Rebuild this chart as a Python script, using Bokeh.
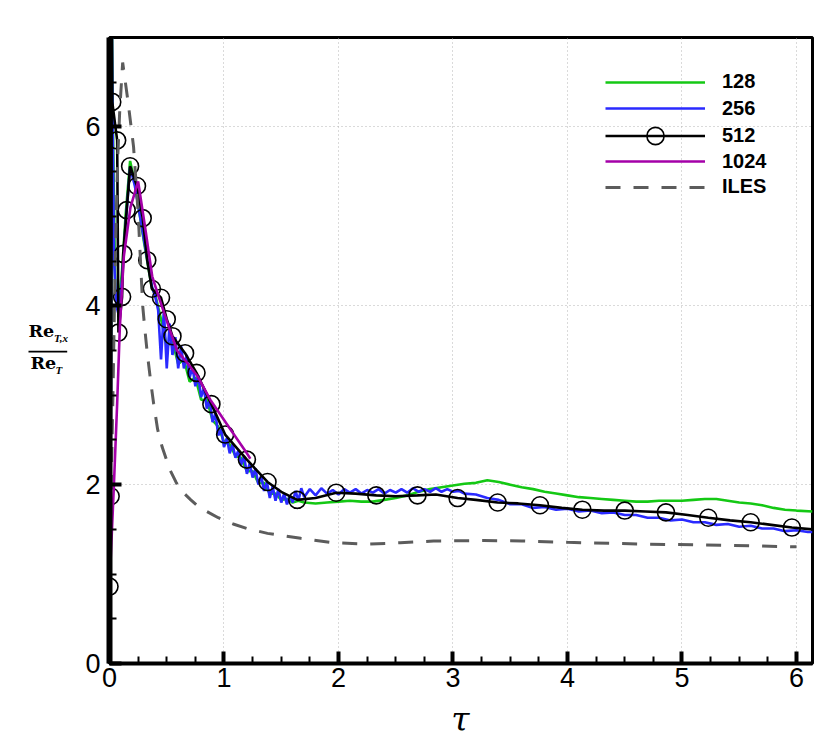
from bokeh.plotting import figure
from bokeh.models import Range1d, SingleIntervalTicker, Legend, LegendItem
from bokeh.layouts import row, column
from bokeh.core.properties import value
from bokeh.embed import file_html
from bokeh.resources import INLINE

# ---------------- data ----------------
tau128 = [0.0, 0.01, 0.016, 0.02, 0.03, 0.05, 0.08, 0.11, 0.14, 0.18, 0.22, 0.26, 0.30, 0.34, 0.37, 0.40,
          0.45, 0.50, 0.55, 0.60, 0.65, 0.70, 0.75, 0.80, 0.85, 0.90, 0.95, 1.00, 1.05,
          1.10, 1.15, 1.20, 1.25, 1.30, 1.35, 1.40, 1.45, 1.50, 1.55, 1.60, 1.65, 1.70,
          1.80, 1.90, 2.00, 2.10, 2.20, 2.30, 2.40, 2.50, 2.60, 2.70, 2.80, 2.90, 3.00,
          3.10, 3.20, 3.30, 3.40, 3.50, 3.60, 3.70, 3.80, 3.90, 4.00, 4.10, 4.20, 4.30,
          4.40, 4.50, 4.60, 4.70, 4.80, 4.90, 5.00, 5.10, 5.20, 5.30, 5.40, 5.50, 5.60,
          5.70, 5.80, 5.90, 6.00, 6.14]
re128 = [0.95, 2.1, 5.2, 7.3, 6.0, 4.2, 4.0, 4.4, 5.0, 5.62, 5.38, 5.05, 4.72, 4.42, 4.20, 4.12,
         3.85, 3.55, 3.60, 3.35, 3.40, 3.15, 3.20, 2.95, 2.95, 2.72, 2.65, 2.48, 2.45,
         2.32, 2.30, 2.15, 2.15, 2.02, 2.02, 1.90, 1.90, 1.83, 1.84, 1.80, 1.82, 1.80,
         1.79, 1.80, 1.81, 1.82, 1.81, 1.81, 1.83, 1.85, 1.88, 1.92, 1.95, 1.97, 1.99,
         2.01, 2.02, 2.05, 2.03, 2.00, 1.97, 1.95, 1.92, 1.90, 1.88, 1.86, 1.85, 1.84,
         1.83, 1.82, 1.81, 1.81, 1.82, 1.82, 1.82, 1.83, 1.84, 1.84, 1.82, 1.80, 1.79,
         1.77, 1.74, 1.72, 1.71, 1.70]

tau256 = [0.0, 0.01, 0.016, 0.02, 0.026, 0.04, 0.06, 0.08, 0.11, 0.14, 0.18, 0.22, 0.26, 0.30, 0.34, 0.37,
          0.400, 0.425, 0.450, 0.475, 0.500, 0.525, 0.550, 0.575, 0.600, 0.625, 0.650,
          0.675, 0.700, 0.725, 0.750, 0.775, 0.800, 0.825, 0.850, 0.875, 0.900, 0.925,
          0.950, 0.975, 1.000, 1.025, 1.050, 1.075, 1.100, 1.125, 1.150, 1.175, 1.200,
          1.225, 1.250, 1.275, 1.300, 1.325, 1.350, 1.375, 1.400, 1.425, 1.450, 1.475,
          1.500, 1.525, 1.550, 1.575, 1.600, 1.625, 1.650, 1.675, 1.700,
          1.75, 1.80, 1.85, 1.90, 1.95, 2.00, 2.05, 2.10, 2.15, 2.20, 2.25, 2.30, 2.35,
          2.40, 2.45, 2.50, 2.55, 2.60, 2.65, 2.70, 2.75, 2.80, 2.85, 2.90, 2.95, 3.00,
          3.05, 3.10,
          3.2, 3.3, 3.4, 3.5, 3.6, 3.7, 3.8, 3.9, 4.0, 4.1, 4.2, 4.3, 4.4, 4.5, 4.6, 4.7,
          4.8, 4.9, 5.0, 5.1, 5.2, 5.3, 5.4, 5.5, 5.6, 5.7, 5.8, 5.9, 6.0, 6.1, 6.14]
re256 = [0.9, 2.0, 5.0, 7.3, 6.2, 4.5, 4.0, 3.9, 4.3, 4.9, 5.55, 5.35, 5.05, 4.75, 4.45, 4.22,
         4.10, 3.95, 3.40, 3.95, 3.30, 3.80, 3.45, 3.65, 3.30, 3.55, 3.30,
         3.45, 3.20, 3.32, 3.10, 3.22, 2.98, 3.08, 2.85, 2.95, 2.70, 2.80,
         2.55, 2.62, 2.42, 2.52, 2.35, 2.45, 2.30, 2.38, 2.22, 2.32, 2.12,
         2.24, 2.08, 2.18, 2.00, 2.10, 1.93, 2.03, 1.85, 1.98, 1.82, 1.95,
         1.80, 1.90, 1.78, 1.88, 1.80, 1.93, 1.82, 1.96, 1.86,
         1.95, 1.88, 1.96, 1.90, 1.94, 1.89, 1.95, 1.91, 1.95, 1.90, 1.94, 1.91, 1.95,
         1.90, 1.94, 1.91, 1.95, 1.91, 1.96, 1.92, 1.95, 1.92, 1.96, 1.92, 1.95, 1.92,
         1.93, 1.90,
         1.89, 1.85, 1.83, 1.78, 1.78, 1.74, 1.75, 1.72, 1.73, 1.70, 1.71, 1.68, 1.69, 1.66, 1.66, 1.63,
         1.63, 1.60, 1.61, 1.58, 1.58, 1.55, 1.56, 1.53, 1.54, 1.51, 1.51, 1.48, 1.49, 1.47, 1.47]

tau512 = [0.0, 0.01, 0.016, 0.02, 0.024, 0.067, 0.078, 0.11, 0.12, 0.15, 0.18, 0.24, 0.29, 0.33,
          0.37, 0.45, 0.50, 0.55, 0.66, 0.76, 0.89, 1.01, 1.20, 1.38, 1.50, 1.64, 1.80, 1.98,
          2.15, 2.33, 2.50, 2.69, 2.85, 3.04, 3.20, 3.39, 3.57, 3.76, 3.95, 4.13, 4.32, 4.50,
          4.68, 4.86, 5.05, 5.23, 5.42, 5.60, 5.78, 5.96, 6.14]
re512 = [0.86, 1.87, 4.5, 7.3, 6.28, 5.85, 3.70, 4.10, 4.58, 5.07, 5.56, 5.34, 4.98, 4.51,
         4.19, 4.09, 3.85, 3.66, 3.47, 3.25, 2.90, 2.56, 2.28, 2.03, 1.92, 1.83, 1.85, 1.91,
         1.90, 1.88, 1.87, 1.88, 1.89, 1.85, 1.83, 1.80, 1.79, 1.77, 1.74, 1.72, 1.71, 1.71,
         1.70, 1.69, 1.66, 1.63, 1.60, 1.58, 1.55, 1.52, 1.50]
sym512 = [0, 1, 4, 5, 6, 7, 8, 9, 10, 11, 12, 13, 14, 15, 16, 17, 18, 19, 20, 21, 22, 23,
          25, 27, 29, 31, 33, 35, 37, 39, 41, 43, 45, 47, 49]

tau1024 = [0.0, 0.01, 0.038, 0.067, 0.09, 0.125, 0.183, 0.25, 0.314, 0.373, 0.43, 0.53, 0.59,
           0.68, 0.77, 0.88, 1.06, 1.20, 1.23]
re1024 = [1.0, 1.16, 1.98, 2.91, 3.75, 4.55, 5.1, 5.39, 4.85, 4.33, 4.10, 3.72, 3.50,
          3.36, 3.21, 2.95, 2.61, 2.35, 2.29]

tauILES = [0.0, 0.03, 0.05, 0.07, 0.09, 0.115, 0.16, 0.21, 0.25, 0.29, 0.31, 0.33, 0.36, 0.385,
           0.42, 0.46, 0.53, 0.58, 0.62, 0.71, 0.78, 0.85, 0.95, 1.08, 1.20, 1.38, 1.67, 1.96,
           2.25, 2.54, 2.83, 3.27, 3.60, 4.00, 4.70, 5.40, 6.00]
reILES = [1.0, 3.0, 4.5, 5.6, 6.2, 6.72, 6.3, 5.78, 5.04, 4.0, 3.72, 3.47, 3.15, 2.91,
          2.62, 2.42, 2.16, 2.03, 1.94, 1.83, 1.75, 1.70, 1.63, 1.56, 1.51, 1.455, 1.40, 1.35,
          1.335, 1.35, 1.37, 1.375, 1.37, 1.355, 1.335, 1.32, 1.305]

series_labels = ["128", "256", "512", "1024", "ILES"]
x_label = "τ"
y_label_num = ("Re", "T,x")
y_label_den = ("Re", "T")
x_ticks_interval = 1
y_ticks_interval = 2

# ---------------- main figure ----------------
p = figure(width=742, height=699, x_range=Range1d(0, 6.14), y_range=Range1d(0, 7),
           output_backend="svg", toolbar_location=None,
           min_border_left=29, min_border_right=10, min_border_top=37, min_border_bottom=36)
p.background_fill_color = "white"
p.border_fill_color = "white"
p.outline_line_color = "black"
p.outline_line_width = 3

for ax, iv, lw in ((p.xaxis[0], x_ticks_interval, 4), (p.yaxis[0], y_ticks_interval, 6)):
    ax.ticker = SingleIntervalTicker(interval=iv, num_minor_ticks=4)
    ax.axis_line_width = lw
    ax.axis_line_color = "black"
    ax.major_tick_in = 12
    ax.major_tick_out = 0
    ax.minor_tick_in = 7
    ax.minor_tick_out = 0
    ax.major_tick_line_width = 4
    ax.minor_tick_line_width = 2
    ax.major_tick_line_color = "black"
    ax.minor_tick_line_color = "black"
    ax.major_label_text_font = "Liberation Sans"
    ax.major_label_text_font_size = "27px"
    ax.major_label_text_color = "black"
p.xaxis.major_label_standoff = 4
p.yaxis.major_label_standoff = 9

p.xgrid.ticker = SingleIntervalTicker(interval=x_ticks_interval)
p.ygrid.ticker = SingleIntervalTicker(interval=y_ticks_interval)
for g in (p.xgrid[0], p.ygrid[0]):
    g.grid_line_color = "#b4b4b4"
    g.grid_line_dash = "1 3"
    g.grid_line_width = 1

r128 = p.line(tau128, re128, line_color="#14c814", line_width=2.6)
r256 = p.line(tau256, re256, line_color="#2a2aff", line_width=2.6)
r512 = p.line(tau512, re512, line_color="black", line_width=2.6)
s512 = p.scatter([tau512[i] for i in sym512], [re512[i] for i in sym512], marker="circle",
                 size=17, fill_color=None, line_color="black", line_width=1.6)
r1024 = p.line(tau1024, re1024, line_color="#a400a8", line_width=2.6)
rILES = p.line(tauILES, reILES, line_color="#5c5c5c", line_width=3, line_dash="15 13")

# one legend per row (so the circle of "512" can keep its full size)
rows = [([r128], 26, 568.3), ([r256], 26, 542.0), ([r512, s512], 43, 505.8),
        ([r1024], 26, 489.0), ([rILES], 26, 463.3)]
for lab, (rends, h, yb) in zip(series_labels, rows):
    lg = Legend(items=[LegendItem(label=lab, renderers=rends)],
                location=(496, yb), padding=0, margin=0, spacing=0,
                glyph_width=100, glyph_height=h, label_height=h, label_standoff=17,
                label_text_font="Liberation Sans", label_text_font_style="bold",
                label_text_font_size="20px", label_text_color="black",
                label_text_baseline="middle",
                background_fill_alpha=0, border_line_alpha=0)
    p.add_layout(lg)

# ---------------- y label panel (stacked fraction) ----------------
yl = figure(width=80, height=699, x_range=Range1d(0, 80), y_range=Range1d(699, 0),
            output_backend="svg", toolbar_location=None, x_axis_type=None, y_axis_type=None,
            min_border=0)
yl.outline_line_color = None
yl.grid.visible = False
txt = dict(text_baseline="middle", text_align="left", text_color="black")
yl.text(x=[28.0], y=[327.2], text=[y_label_num[0]], text_font=value("DejaVu Serif"),
        text_font_style="bold", text_font_size="17.5px", **txt)
yl.text(x=[53.5], y=[335.3], text=[y_label_num[1]], text_font=value("Liberation Serif"),
        text_font_style="bold italic", text_font_size="11px", **txt)
yl.line(x=[28.0, 66.7], y=[350.8, 350.8], line_color="black", line_width=1.6)
yl.text(x=[30.0], y=[363.2], text=[y_label_den[0]], text_font=value("DejaVu Serif"),
        text_font_style="bold", text_font_size="17.5px", **txt)
yl.text(x=[55.0], y=[371.3], text=[y_label_den[1]], text_font=value("Liberation Serif"),
        text_font_style="bold italic", text_font_size="11px", **txt)

# ---------------- x label panel ----------------
xl = figure(width=822, height=40, x_range=Range1d(0, 822), y_range=Range1d(40, 0),
            output_backend="svg", toolbar_location=None, x_axis_type=None, y_axis_type=None,
            min_border=0)
xl.outline_line_color = None
xl.grid.visible = False
xl.text(x=[460], y=[19.8], text=[x_label], text_font=value("DejaVu Serif"),
        text_font_style="italic", text_font_size="33px", text_baseline="middle",
        text_align="center", text_color="black")

layout = column(row(yl, p, spacing=0), xl, spacing=0)
open("out.html", "w").write(file_html(layout, INLINE))
